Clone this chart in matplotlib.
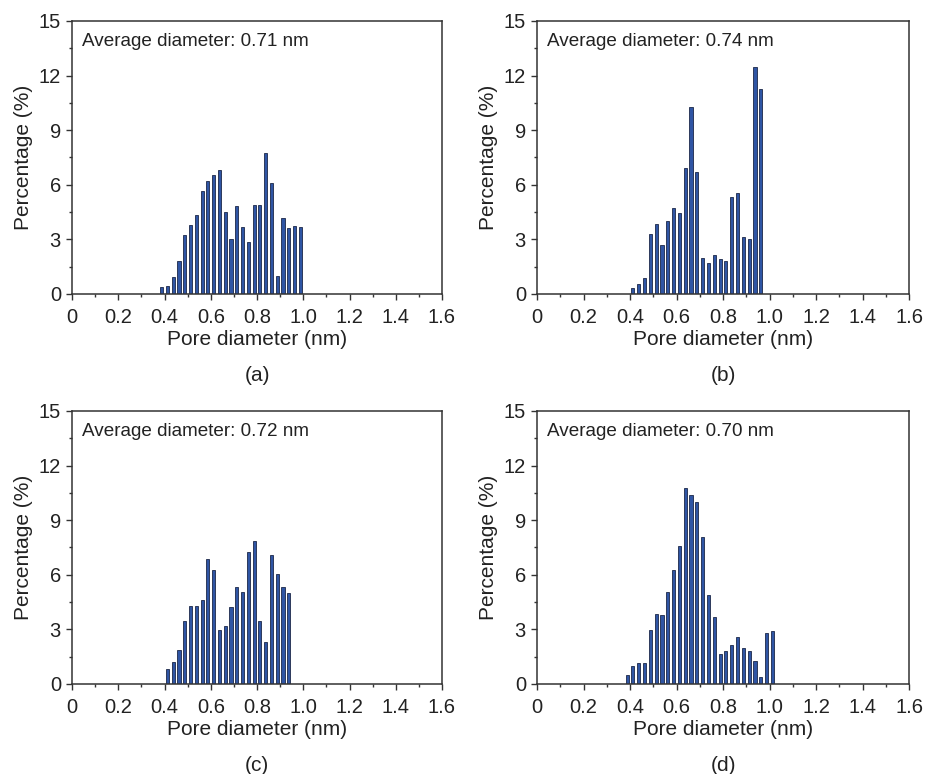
import numpy as np
import matplotlib
matplotlib.use("Agg")
import matplotlib.pyplot as plt
from matplotlib.ticker import MultipleLocator

plt.rcParams['font.family'] = ['Liberation Sans', 'DejaVu Sans']

# bin centres (nm) and percentages for each panel
x_a = 0.3875 + 0.025 * np.arange(25)
y_a = [0.36, 0.45, 0.91, 1.83, 3.26, 3.81, 4.35, 5.67, 6.20, 6.52, 6.82, 4.53, 3.04,
       4.83, 3.67, 2.83, 4.89, 4.89, 7.77, 6.11, 0.98, 4.17, 3.60, 3.76, 3.69]
avg_a = "0.71"

x_b = 0.4125 + 0.025 * np.arange(23)
y_b = [0.35, 0.53, 0.86, 3.30, 3.83, 2.70, 4.03, 4.75, 4.44, 6.94, 10.27, 6.68,
       2.00, 1.69, 2.13, 1.91, 1.82, 5.34, 5.56, 3.11, 3.01, 12.48, 11.26]
avg_b = "0.74"

x_c = 0.4125 + 0.025 * np.arange(22)
y_c = [0.80, 1.22, 1.85, 3.45, 4.31, 4.31, 4.60, 6.87, 6.24, 2.96, 3.16, 4.24,
       5.33, 5.04, 7.25, 7.85, 3.47, 2.33, 7.09, 6.05, 5.31, 5.02]
avg_c = "0.72"

x_d = 0.3875 + 0.025 * np.arange(26)
y_d = [0.51, 0.98, 1.13, 1.15, 2.95, 3.86, 3.77, 5.07, 6.27, 7.58, 10.75, 10.38,
       10.02, 8.05, 4.87, 3.67, 1.67, 1.80, 2.13, 2.60, 2.00, 1.80, 1.29, 0.38,
       2.78, 2.89]
avg_d = "0.70"

panels = [(x_a, y_a, avg_a, "(a)"), (x_b, y_b, avg_b, "(b)"),
          (x_c, y_c, avg_c, "(c)"), (x_d, y_d, avg_d, "(d)")]

fig = plt.figure(figsize=(9.27, 7.74), dpi=100)
lefts = [0.0777, 0.5793, 0.0777, 0.5793]
bottoms = [0.6202, 0.6202, 0.1163, 0.1163]
widths = [0.3991, 0.4013, 0.3991, 0.4013]
h = 0.3527

spine_col = '#333333'
txt_col = '#222222'

for i, (xs, ys, avg, lab) in enumerate(panels):
    ax = fig.add_axes([lefts[i], bottoms[i], widths[i], h])
    ax.bar(xs, ys, width=0.0135, color='#2f55a4', edgecolor='#1c2748',
           linewidth=0.6)
    ax.set_xlim(0, 1.6)
    ax.set_ylim(0, 15)
    ax.xaxis.set_minor_locator(MultipleLocator(0.1))
    ax.yaxis.set_major_locator(MultipleLocator(3))
    ax.yaxis.set_minor_locator(MultipleLocator(1.5))
    ax.set_xticks(np.arange(0, 1.61, 0.2))
    ax.set_xticklabels(['0', '0.2', '0.4', '0.6', '0.8', '1.0', '1.2', '1.4', '1.6'])
    ax.tick_params(which='major', direction='out', length=4, width=1,
                   color=spine_col, labelsize=14.5, labelcolor=txt_col)
    ax.tick_params(axis='x', which='major', pad=6)
    ax.tick_params(axis='y', which='major', pad=4)
    ax.tick_params(which='minor', direction='out', length=2.5, width=1,
                   color=spine_col)
    for s in ax.spines.values():
        s.set_color(spine_col)
        s.set_linewidth(1.1)
    ax.set_xlabel('Pore diameter (nm)', fontsize=15, color=txt_col, labelpad=2)
    ax.set_ylabel('Percentage (%)', fontsize=15, color=txt_col, labelpad=4)
    ax.text(0.027, 0.955, 'Average diameter: ' + avg + ' nm', transform=ax.transAxes,
            fontsize=13.6, color=txt_col, va='top', ha='left')
    ax.text(0.5, -0.265, lab, transform=ax.transAxes, fontsize=15,
            color=txt_col, va='top', ha='center')

fig.savefig('out.png', dpi=100)
